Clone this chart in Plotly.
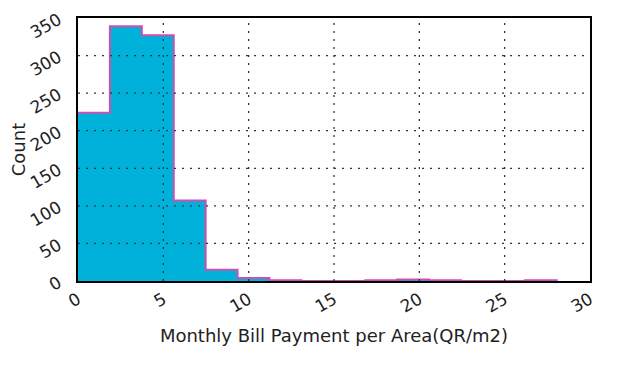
import numpy as np
import plotly.graph_objects as go

# histogram bins (QR/m2) and counts
bin_edges = [0.0, 1.87, 3.74, 5.61, 7.48, 9.35, 11.22, 13.09, 14.96,
             16.83, 18.70, 20.57, 22.44, 24.31, 26.18, 28.05]
counts = [224, 339, 327, 107, 15, 4, 1, 0, 0, 1, 2, 1, 0, 0, 1]

x_ticks = [0, 5, 10, 15, 20, 25, 30]
y_ticks = [0, 50, 100, 150, 200, 250, 300, 350]

# step outline: each count held across its bin, then drop to zero at the end
step_x = bin_edges[:-1] + [bin_edges[-1], bin_edges[-1]]
step_y = counts + [counts[-1], 0]

fig = go.Figure()

fig.add_trace(
    go.Scatter(
        x=step_x,
        y=step_y,
        mode="lines",
        line=dict(shape="hv", color="#cc4fb4", width=2),
        fill="tozeroy",
        fillcolor="#00b2d9",
        hoverinfo="skip"
    )
)

# dotted grid drawn on top of the fill, like the original
grid_line = dict(color="#333333", width=1.3, dash="2px,6px")
for v in x_ticks[1:-1]:
    fig.add_shape(type="line", xref="x", yref="paper", x0=v, x1=v,
                  y0=0, y1=1, line=grid_line, layer="above")
for v in y_ticks[1:-1]:
    fig.add_shape(type="line", xref="paper", yref="y", x0=0, x1=1,
                  y0=v, y1=v, line=grid_line, layer="above")

tick_font = dict(family="DejaVu Sans", size=17, color="#222222")
title_font = dict(family="DejaVu Sans", size=18, color="#222222")

# page body adds an 8px offset, so the figure is sized to fit inside it
fig.update_layout(
    width=616,
    height=376,
    margin=dict(l=70, r=34, t=10, b=103),
    plot_bgcolor="white",
    paper_bgcolor="white",
    showlegend=False,
    font=tick_font
)

fig.update_xaxes(
    range=[0, 30],
    tickvals=x_ticks,
    ticktext=[str(v) for v in x_ticks],
    tickangle=-30,
    tickfont=tick_font,
    ticklabelstandoff=0,
    showgrid=False,
    showline=True,
    linecolor="black",
    linewidth=2,
    mirror=True,
    zeroline=False,
    ticks="",
    automargin=False,
    title=dict(text="Monthly Bill Payment per Area(QR/m2)",
               font=title_font, standoff=14)
)

fig.update_yaxes(
    range=[0, 350],
    tickvals=y_ticks,
    ticktext=[str(v) for v in y_ticks],
    tickangle=-30,
    tickfont=tick_font,
    ticklabelstandoff=14,
    showgrid=False,
    showline=True,
    linecolor="black",
    linewidth=2,
    mirror=True,
    zeroline=False,
    ticks="",
    automargin=False,
    title=dict(text="Count", font=title_font, standoff=14)
)

fig.write_html("out.html")
